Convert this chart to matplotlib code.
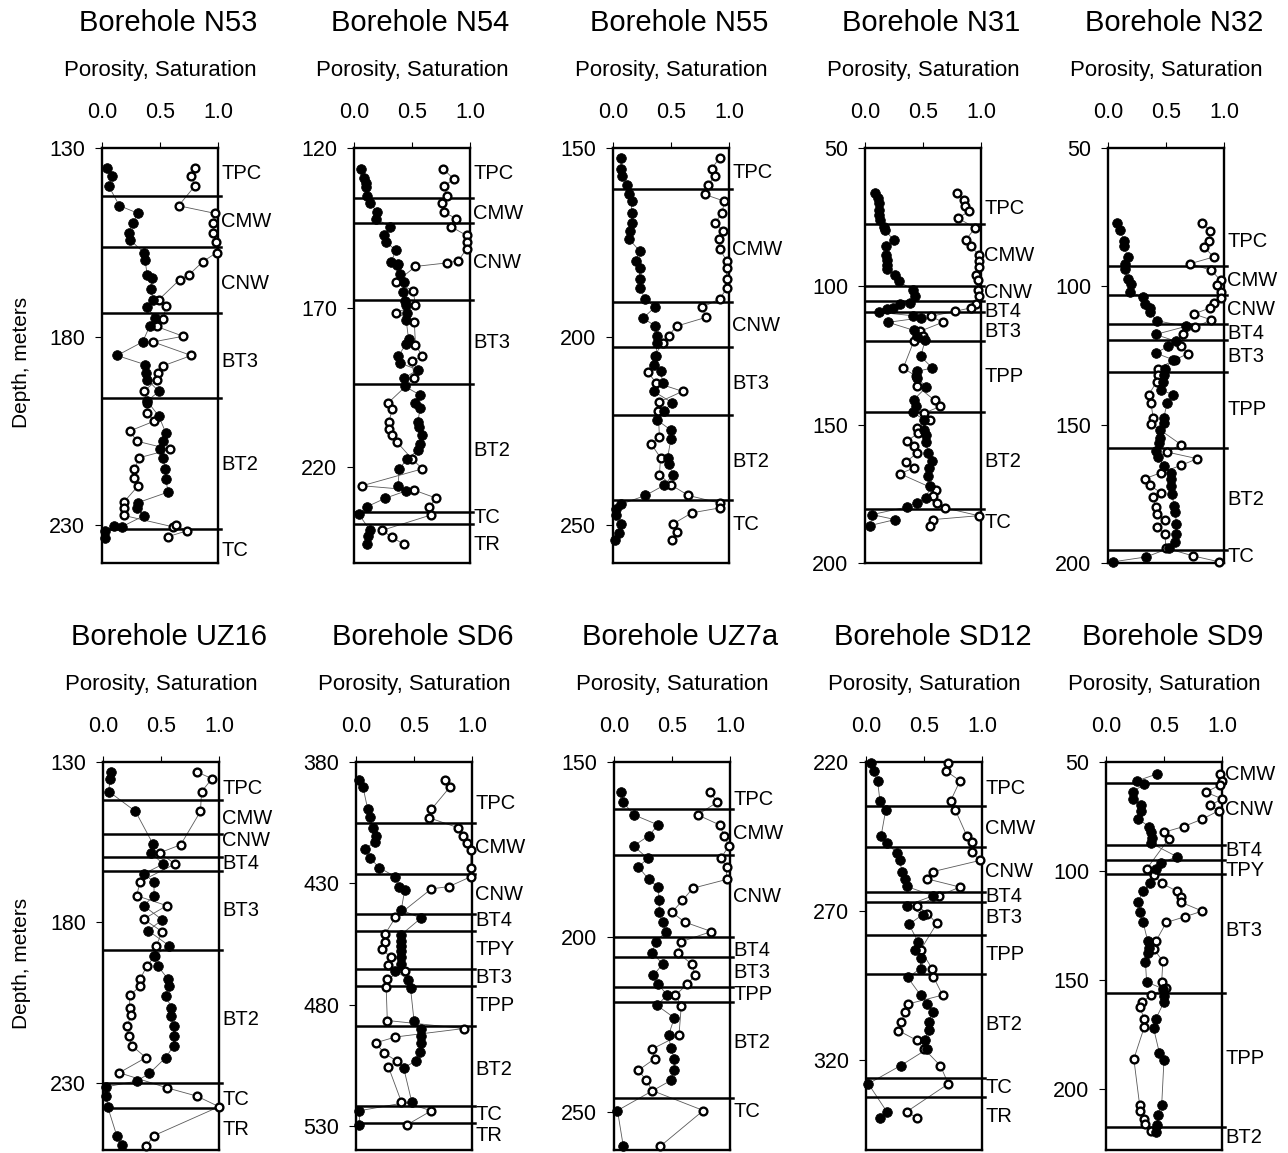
"""Porosity and saturation profiles for ten boreholes."""

import matplotlib
matplotlib.use("Agg")
import matplotlib.pyplot as plt
import matplotlib.transforms as mtransforms
import numpy as np

plt.rcParams["font.family"] = ["Liberation Sans", "DejaVu Sans"]

# ---- data: (depth m, value) pairs ----
N53_POROSITY = [(135.4, 0.04), (137.4, 0.09), (140.2, 0.06), (145.3, 0.15), (147.3, 0.31), (149.9, 0.27),
                (152.6, 0.23), (154.3, 0.24), (157.7, 0.36), (159.6, 0.37), (163.6, 0.39), (164.5, 0.43),
                (167.3, 0.42), (170.2, 0.44), (172.2, 0.39), (175.1, 0.46), (177.3, 0.41), (181.4, 0.35),
                (185.0, 0.13), (187.4, 0.37), (189.6, 0.38), (191.4, 0.39), (194.5, 0.49), (197.1, 0.39),
                (201.1, 0.49), (205.5, 0.55), (207.7, 0.53), (209.9, 0.50), (212.1, 0.53), (215.2, 0.54),
                (217.8, 0.55), (221.2, 0.57), (224.0, 0.31), (225.3, 0.30), (227.5, 0.36), (230.4, 0.17),
                (230.2, 0.10), (231.5, 0.03), (233.3, 0.03)]
N53_SATURATION = [(135.4, 0.80), (137.4, 0.77), (140.1, 0.80), (145.3, 0.66), (147.3, 0.97), (149.9, 0.96),
                  (152.4, 0.96), (154.9, 0.98), (157.7, 0.99), (160.1, 0.87), (163.6, 0.75), (164.9, 0.67),
                  (170.2, 0.49), (172.0, 0.55), (175.2, 0.53), (177.3, 0.47), (179.9, 0.70), (181.4, 0.44),
                  (185.0, 0.77), (187.7, 0.53), (189.6, 0.48), (191.6, 0.47), (194.5, 0.36), (197.5, 0.39),
                  (200.2, 0.39), (202.4, 0.45), (205.0, 0.24), (207.7, 0.30), (209.9, 0.59), (212.1, 0.32),
                  (215.2, 0.28), (217.4, 0.28), (219.6, 0.31), (223.8, 0.19), (225.3, 0.19), (227.4, 0.19),
                  (230.4, 0.61), (230.0, 0.64), (231.5, 0.73), (233.0, 0.57)]
N53_TOPS = [142.7, 156.3, 173.7, 196.2, 231.1]
N53_UNITS = ["TPC", "CMW", "CNW", "BT3", "BT2", "TC"]
N53_UNIT_DEPTHS = [136.7, 149.5, 165.8, 186.5, 213.9, 236.8]

N54_POROSITY = [(126.6, 0.06), (129.5, 0.09), (131.1, 0.10), (132.1, 0.10), (134.9, 0.11), (137.1, 0.14),
                (140.2, 0.20), (142.1, 0.19), (144.7, 0.31), (147.4, 0.26), (149.5, 0.28), (152.1, 0.36),
                (155.8, 0.32), (156.2, 0.38), (156.8, 0.37), (159.5, 0.40), (162.1, 0.43), (165.1, 0.42),
                (167.9, 0.44), (169.3, 0.45), (171.8, 0.46), (173.9, 0.45), (179.8, 0.47), (181.3, 0.45),
                (185.3, 0.38), (187.4, 0.40), (189.5, 0.55), (192.1, 0.43), (194.7, 0.44), (197.4, 0.57),
                (200.0, 0.53), (201.6, 0.57), (205.8, 0.55), (207.4, 0.56), (210.0, 0.59), (212.6, 0.57),
                (214.7, 0.55), (217.4, 0.46), (220.5, 0.39), (225.8, 0.38), (227.4, 0.45), (229.7, 0.27),
                (232.4, 0.11), (234.7, 0.04), (239.8, 0.14), (241.6, 0.12), (244.2, 0.11)]
N54_SATURATION = [(126.6, 0.77), (129.7, 0.86), (131.9, 0.78), (134.9, 0.80), (137.1, 0.76), (140.2, 0.78),
                  (142.1, 0.88), (144.7, 0.84), (147.4, 0.97), (149.5, 0.97), (151.6, 0.97), (155.3, 0.90),
                  (156.0, 0.80), (157.1, 0.53), (162.1, 0.36), (164.7, 0.51), (169.3, 0.53), (171.6, 0.36),
                  (174.4, 0.52), (181.8, 0.53), (185.1, 0.59), (186.8, 0.50), (192.1, 0.52), (200.0, 0.29),
                  (201.9, 0.33), (205.8, 0.30), (207.9, 0.30), (210.0, 0.33), (212.1, 0.37), (217.4, 0.50),
                  (220.5, 0.59), (225.8, 0.07), (227.2, 0.52), (229.7, 0.71), (232.4, 0.65), (235.0, 0.66),
                  (239.8, 0.24), (241.9, 0.33), (244.2, 0.43)]
N54_TOPS = [135.8, 143.4, 167.6, 193.9, 233.9, 237.9]
N54_UNITS = ["TPC", "CMW", "CNW", "BT3", "BT2", "TC", "TR"]
N54_UNIT_DEPTHS = [127.9, 140.5, 155.8, 181.0, 214.7, 235.8, 244.2]

N55_POROSITY = [(152.6, 0.07), (155.5, 0.07), (157.3, 0.08), (159.7, 0.12), (162.3, 0.14), (164.1, 0.16),
                (167.3, 0.16), (169.8, 0.16), (172.0, 0.15), (174.2, 0.14), (177.3, 0.23), (179.9, 0.20),
                (181.9, 0.23), (184.6, 0.23), (187.2, 0.23), (190.0, 0.28), (192.2, 0.36), (195.1, 0.26),
                (197.1, 0.36), (199.7, 0.38), (201.6, 0.38), (205.0, 0.37), (207.4, 0.35), (209.2, 0.41),
                (212.4, 0.43), (214.5, 0.35), (217.5, 0.51), (219.7, 0.44), (222.1, 0.38), (224.8, 0.50),
                (227.0, 0.50), (232.2, 0.47), (233.8, 0.48), (236.6, 0.52), (239.4, 0.44), (242.1, 0.28),
                (244.4, 0.07), (245.6, 0.03), (247.2, 0.03), (249.6, 0.07), (252.0, 0.05), (254.0, 0.02)]
N55_SATURATION = [(152.6, 0.92), (155.5, 0.85), (157.3, 0.88), (159.7, 0.82), (162.3, 0.79), (164.1, 0.96),
                  (167.3, 0.94), (169.8, 0.88), (172.0, 0.95), (174.2, 0.91), (176.8, 0.92), (179.9, 0.98),
                  (181.9, 0.98), (184.6, 0.98), (187.2, 0.98), (190.0, 0.92), (192.2, 0.77), (194.9, 0.80),
                  (197.2, 0.55), (199.7, 0.48), (201.6, 0.43), (205.0, 0.36), (209.4, 0.30), (212.2, 0.37),
                  (214.5, 0.60), (217.3, 0.40), (219.7, 0.39), (226.5, 0.40), (228.5, 0.33), (232.1, 0.41),
                  (236.6, 0.40), (239.3, 0.50), (242.1, 0.65), (244.1, 0.92), (245.4, 0.92), (246.7, 0.68),
                  (249.6, 0.52), (251.8, 0.55), (254.0, 0.51)]
N55_TOPS = [160.8, 190.9, 202.8, 220.8, 243.2]
N55_UNITS = ["TPC", "CMW", "CNW", "BT3", "BT2", "TC"]
N55_UNIT_DEPTHS = [156.6, 176.8, 197.0, 212.4, 233.1, 249.8]

N31_POROSITY = [(66.3, 0.09), (68.1, 0.11), (69.9, 0.12), (72.3, 0.12), (74.1, 0.12), (75.9, 0.13),
                (78.6, 0.16), (79.5, 0.17), (83.4, 0.25), (85.5, 0.18), (88.6, 0.18), (90.4, 0.19),
                (92.2, 0.19), (93.7, 0.19), (95.8, 0.26), (98.2, 0.29), (101.2, 0.41), (103.6, 0.43),
                (106.0, 0.39), (106.3, 0.30), (107.8, 0.24), (108.2, 0.19), (109.4, 0.12), (110.6, 0.41),
                (111.4, 0.48), (113.0, 0.20), (115.9, 0.42), (118.1, 0.45), (119.3, 0.52), (125.3, 0.48),
                (129.5, 0.58), (130.7, 0.45), (133.1, 0.45), (136.4, 0.53), (141.0, 0.42), (143.4, 0.44),
                (145.5, 0.41), (148.2, 0.51), (151.8, 0.51), (153.6, 0.53), (156.4, 0.53), (160.2, 0.54),
                (163.3, 0.58), (165.7, 0.55), (168.7, 0.54), (172.3, 0.56), (176.5, 0.53), (178.3, 0.45),
                (179.8, 0.36), (182.5, 0.06), (184.3, 0.26), (186.5, 0.04)]
N31_SATURATION = [(66.3, 0.79), (68.7, 0.85), (71.1, 0.86), (72.9, 0.90), (75.3, 0.80), (78.9, 0.95),
                  (83.1, 0.87), (85.3, 0.91), (88.6, 0.98), (91.0, 0.98), (93.0, 0.98), (95.8, 0.96),
                  (97.8, 0.97), (101.2, 0.97), (103.6, 0.98), (106.3, 0.96), (107.8, 0.91), (109.0, 0.78),
                  (110.8, 0.57), (113.0, 0.67), (116.3, 0.47), (118.1, 0.50), (119.9, 0.42), (129.5, 0.33),
                  (132.5, 0.44), (136.1, 0.45), (141.2, 0.60), (143.4, 0.65), (145.8, 0.51), (148.4, 0.56),
                  (151.2, 0.45), (153.0, 0.46), (156.0, 0.36), (157.8, 0.42), (160.2, 0.45), (163.6, 0.35),
                  (165.7, 0.42), (167.7, 0.30), (173.5, 0.61), (175.9, 0.59), (178.3, 0.62), (180.1, 0.69),
                  (182.9, 0.98), (184.3, 0.59), (186.7, 0.56)]
N31_TOPS = [77.3, 99.8, 105.2, 109.4, 119.9, 145.5, 180.5]
N31_UNITS = ["TPC", "CMW", "CNW", "BT4", "BT3", "TPP", "BT2", "TC"]
N31_UNIT_DEPTHS = [71.7, 88.9, 102.4, 109.2, 116.3, 132.5, 163.3, 185.5]

N32_POROSITY = [(77.1, 0.08), (79.5, 0.10), (83.5, 0.14), (85.5, 0.14), (89.4, 0.17), (91.8, 0.15),
                (93.8, 0.15), (97.4, 0.17), (99.2, 0.20), (101.9, 0.19), (104.0, 0.30), (106.4, 0.32),
                (107.8, 0.36), (109.4, 0.36), (112.4, 0.42), (114.5, 0.67), (117.4, 0.41), (119.9, 0.59),
                (121.7, 0.52), (124.1, 0.41), (126.5, 0.56), (129.7, 0.49), (132.1, 0.48), (134.5, 0.47),
                (137.5, 0.46), (139.2, 0.56), (142.2, 0.51), (147.6, 0.48), (149.4, 0.48), (151.8, 0.45),
                (154.8, 0.45), (156.6, 0.44), (159.6, 0.41), (161.6, 0.43), (164.9, 0.48), (167.3, 0.54),
                (169.7, 0.54), (172.1, 0.54), (175.1, 0.55), (179.3, 0.57), (181.7, 0.58), (185.8, 0.59),
                (189.4, 0.59), (192.4, 0.58), (194.6, 0.53), (197.8, 0.33), (199.6, 0.04)]
N32_SATURATION = [(77.1, 0.81), (79.9, 0.88), (83.5, 0.87), (85.8, 0.83), (89.4, 0.91), (91.8, 0.71),
                  (94.2, 0.89), (97.8, 0.97), (99.5, 0.94), (101.9, 0.97), (104.2, 0.97), (106.2, 0.91),
                  (107.8, 0.88), (110.0, 0.74), (112.1, 0.89), (114.8, 0.75), (117.4, 0.65), (121.7, 0.63),
                  (124.3, 0.69), (126.5, 0.58), (129.7, 0.43), (132.1, 0.43), (134.5, 0.42), (139.2, 0.35),
                  (142.2, 0.37), (147.6, 0.39), (149.6, 0.37), (157.2, 0.63), (159.9, 0.51), (162.3, 0.77),
                  (164.7, 0.63), (167.3, 0.46), (169.5, 0.32), (171.9, 0.36), (174.7, 0.46), (176.3, 0.39),
                  (179.9, 0.41), (182.3, 0.42), (184.3, 0.49), (187.0, 0.42), (189.4, 0.49), (194.6, 0.50),
                  (197.4, 0.73), (199.6, 0.96)]
N32_TOPS = [92.7, 103.2, 113.6, 119.5, 131.1, 158.6, 195.4]
N32_UNITS = ["TPC", "CMW", "CNW", "BT4", "BT3", "TPP", "BT2", "TC"]
N32_UNIT_DEPTHS = [83.9, 98.0, 108.5, 116.9, 125.5, 144.6, 176.9, 197.8]

UZ16_POROSITY = [(133.1, 0.07), (135.2, 0.06), (139.2, 0.05), (145.4, 0.28), (155.5, 0.43), (158.3, 0.41),
                 (161.8, 0.52), (164.9, 0.35), (167.3, 0.44), (171.7, 0.44), (174.8, 0.35), (179.2, 0.51),
                 (182.6, 0.39), (187.3, 0.57), (190.4, 0.44), (193.5, 0.47), (197.7, 0.56), (199.8, 0.57),
                 (202.9, 0.54), (206.6, 0.59), (209.2, 0.59), (212.3, 0.61), (215.4, 0.61), (218.5, 0.61),
                 (222.2, 0.54), (227.1, 0.40), (229.5, 0.29), (231.3, 0.03), (234.2, 0.03), (237.5, 0.04),
                 (246.7, 0.12), (249.5, 0.16)]
UZ16_SATURATION = [(133.1, 0.81), (135.2, 0.94), (139.2, 0.85), (145.4, 0.84), (155.8, 0.67), (158.3, 0.49),
                   (161.8, 0.62), (167.3, 0.32), (171.7, 0.29), (174.8, 0.55), (179.0, 0.35), (182.9, 0.51),
                   (187.3, 0.46), (190.4, 0.45), (193.5, 0.38), (197.7, 0.32), (200.0, 0.32), (202.7, 0.23),
                   (206.6, 0.23), (209.0, 0.24), (212.3, 0.21), (215.4, 0.22), (218.5, 0.25), (222.2, 0.37),
                   (226.9, 0.14), (231.6, 0.55), (234.2, 0.81), (237.5, 1.00), (246.5, 0.44), (249.8, 0.37)]
UZ16_TOPS = [141.8, 152.4, 159.5, 163.9, 188.5, 230.0, 237.8]
UZ16_UNITS = ["TPC", "CMW", "CNW", "BT4", "BT3", "BT2", "TC", "TR"]
UZ16_UNIT_DEPTHS = [138.3, 147.7, 154.5, 161.8, 176.4, 210.2, 235.2, 244.6]

SD6_POROSITY = [(387.5, 0.03), (390.3, 0.06), (399.2, 0.10), (402.6, 0.12), (407.1, 0.15), (410.4, 0.17),
                (412.9, 0.16), (415.9, 0.08), (419.5, 0.12), (423.6, 0.20), (427.3, 0.34), (431.4, 0.37),
                (432.7, 0.42), (441.0, 0.39), (444.4, 0.56), (451.2, 0.39), (453.7, 0.39), (456.0, 0.39),
                (458.1, 0.39), (460.5, 0.39), (463.3, 0.39), (466.0, 0.34), (469.7, 0.45), (473.2, 0.47),
                (486.6, 0.50), (490.3, 0.56), (493.0, 0.56), (495.8, 0.56), (499.5, 0.55), (503.3, 0.52),
                (506.0, 0.41), (520.0, 0.48), (523.8, 0.03), (529.6, 0.03)]
SD6_SATURATION = [(387.5, 0.77), (390.3, 0.81), (399.5, 0.65), (403.0, 0.63), (407.1, 0.88), (410.4, 0.92),
                  (413.2, 0.96), (416.3, 0.99), (423.8, 0.99), (427.3, 0.99), (431.4, 0.80), (432.3, 0.65),
                  (444.1, 0.34), (451.0, 0.25), (454.2, 0.25), (457.0, 0.22), (460.5, 0.30), (463.8, 0.28),
                  (466.0, 0.42), (469.3, 0.27), (472.9, 0.26), (486.6, 0.27), (489.9, 0.93), (493.4, 0.34),
                  (495.8, 0.17), (499.9, 0.24), (503.3, 0.35), (505.8, 0.28), (520.0, 0.39), (523.8, 0.65),
                  (529.6, 0.44)]
SD6_TOPS = [405.3, 426.3, 442.6, 449.6, 465.3, 472.2, 488.9, 521.8, 529.0]
SD6_UNITS = ["TPC", "CMW", "CNW", "BT4", "TPY", "BT3", "TPP", "BT2", "TC", "TR"]
SD6_UNIT_DEPTHS = [397.1, 415.3, 434.8, 445.3, 457.4, 469.0, 480.3, 506.7, 525.2, 534.1]

UZ7A_POROSITY = [(158.6, 0.06), (161.5, 0.08), (165.1, 0.17), (168.0, 0.38), (171.1, 0.30), (174.0, 0.17),
                 (177.6, 0.29), (180.0, 0.21), (183.6, 0.30), (185.8, 0.38), (189.6, 0.39), (193.0, 0.39),
                 (195.8, 0.42), (198.5, 0.45), (201.4, 0.36), (204.6, 0.33), (207.8, 0.42), (211.0, 0.34),
                 (213.6, 0.38), (216.7, 0.46), (219.6, 0.37), (223.2, 0.52), (228.2, 0.47), (231.8, 0.49),
                 (234.9, 0.52), (238.2, 0.52), (241.1, 0.49), (249.7, 0.03), (259.9, 0.08)]
UZ7A_SATURATION = [(158.6, 0.83), (161.5, 0.89), (165.1, 0.72), (168.0, 0.91), (171.1, 0.95), (174.0, 0.99),
                   (177.6, 0.92), (180.0, 0.97), (183.6, 0.97), (186.1, 0.68), (189.6, 0.59), (193.0, 0.50),
                   (195.8, 0.61), (198.5, 0.84), (201.4, 0.58), (204.6, 0.55), (207.8, 0.67), (211.0, 0.70),
                   (213.6, 0.63), (216.7, 0.53), (219.8, 0.58), (228.2, 0.56), (232.1, 0.33), (234.9, 0.35),
                   (238.2, 0.21), (241.1, 0.28), (244.0, 0.33), (249.7, 0.77), (259.9, 0.40)]
UZ7A_TOPS = [163.5, 176.5, 200.1, 205.7, 214.3, 218.6, 246.2]
UZ7A_UNITS = ["TPC", "CMW", "CNW", "BT4", "BT3", "TPP", "BT2", "TC"]
UZ7A_UNIT_DEPTHS = [160.8, 170.4, 188.6, 204.0, 210.2, 216.4, 230.3, 250.0]

SD12_POROSITY = [(220.3, 0.04), (223.0, 0.07), (226.3, 0.10), (233.0, 0.12), (236.1, 0.17), (244.8, 0.13),
                 (247.2, 0.18), (250.6, 0.27), (253.0, 0.29), (256.7, 0.31), (259.2, 0.34), (261.7, 0.35),
                 (264.8, 0.58), (268.1, 0.35), (271.1, 0.49), (274.4, 0.37), (280.3, 0.45), (283.0, 0.42),
                 (285.6, 0.47), (289.2, 0.47), (292.2, 0.36), (298.1, 0.47), (301.1, 0.53), (303.7, 0.58),
                 (307.0, 0.54), (309.7, 0.54), (313.3, 0.51), (316.1, 0.53), (321.7, 0.30), (327.8, 0.02),
                 (337.2, 0.18), (339.4, 0.12)]
SD12_SATURATION = [(220.3, 0.71), (223.0, 0.69), (226.3, 0.81), (233.0, 0.73), (236.1, 0.77), (244.8, 0.87),
                   (246.7, 0.91), (250.0, 0.91), (253.0, 0.98), (256.7, 0.58), (259.2, 0.53), (261.9, 0.81),
                   (264.8, 0.63), (268.1, 0.44), (270.8, 0.53), (274.1, 0.61), (283.0, 0.47), (289.2, 0.57),
                   (291.9, 0.58), (298.1, 0.66), (301.1, 0.36), (303.9, 0.34), (307.2, 0.30), (310.0, 0.28),
                   (313.3, 0.44), (316.1, 0.50), (321.7, 0.64), (327.8, 0.71), (337.2, 0.35), (339.2, 0.44)]
SD12_TOPS = [234.7, 248.6, 263.6, 266.9, 277.8, 290.9, 325.9, 332.2]
SD12_UNITS = ["TPC", "CMW", "CNW", "BT4", "BT3", "TPP", "BT2", "TC", "TR"]
SD12_UNIT_DEPTHS = [228.9, 242.2, 256.7, 265.0, 272.0, 284.4, 307.8, 328.9, 338.9]

SD9_POROSITY = [(55.5, 0.44), (58.6, 0.27), (60.1, 0.33), (63.8, 0.23), (66.9, 0.23), (69.9, 0.30),
                (72.7, 0.30), (76.2, 0.28), (79.6, 0.37), (81.9, 0.39), (85.0, 0.40), (87.3, 0.39),
                (93.4, 0.61), (96.5, 0.47), (99.1, 0.43), (105.7, 0.38), (109.2, 0.32), (114.1, 0.28),
                (118.7, 0.29), (123.6, 0.32), (132.2, 0.36), (135.3, 0.37), (137.4, 0.36), (141.7, 0.34),
                (150.9, 0.35), (154.0, 0.49), (157.4, 0.50), (160.1, 0.50), (167.8, 0.43), (172.1, 0.41),
                (183.4, 0.46), (186.5, 0.50), (207.4, 0.48), (212.0, 0.45), (216.6, 0.44), (219.6, 0.43)]
SD9_SATURATION = [(55.5, 0.98), (58.6, 1.00), (60.7, 0.98), (63.8, 0.86), (66.9, 1.00), (69.9, 0.90),
                  (72.4, 0.97), (76.2, 0.83), (79.6, 0.67), (82.2, 0.50), (85.3, 0.54), (99.1, 0.35),
                  (101.8, 0.41), (105.7, 0.48), (109.2, 0.61), (111.8, 0.65), (114.4, 0.65), (118.4, 0.83),
                  (121.0, 0.68), (123.6, 0.52), (132.2, 0.43), (135.6, 0.41), (141.4, 0.49), (150.9, 0.48),
                  (153.7, 0.52), (157.1, 0.39), (160.1, 0.31), (162.4, 0.29), (167.8, 0.33), (171.6, 0.33),
                  (186.2, 0.24), (207.4, 0.29), (210.0, 0.29), (213.8, 0.33), (216.1, 0.34), (219.2, 0.39)]
SD9_TOPS = [59.7, 88.3, 94.9, 101.5, 155.8, 217.6]
SD9_UNITS = ["CMW", "CNW", "BT4", "TPY", "BT3", "TPP", "BT2"]
SD9_UNIT_DEPTHS = [55.8, 71.9, 90.6, 99.8, 127.1, 186.2, 222.2]

# name, depth range (top, bottom), porosity, saturation, tops, units, unit label depths
BOREHOLES = [
    ("N53", (130, 240), N53_POROSITY, N53_SATURATION, N53_TOPS, N53_UNITS, N53_UNIT_DEPTHS),
    ("N54", (120, 250), N54_POROSITY, N54_SATURATION, N54_TOPS, N54_UNITS, N54_UNIT_DEPTHS),
    ("N55", (150, 260), N55_POROSITY, N55_SATURATION, N55_TOPS, N55_UNITS, N55_UNIT_DEPTHS),
    ("N31", (50, 200), N31_POROSITY, N31_SATURATION, N31_TOPS, N31_UNITS, N31_UNIT_DEPTHS),
    ("N32", (50, 200), N32_POROSITY, N32_SATURATION, N32_TOPS, N32_UNITS, N32_UNIT_DEPTHS),
    ("UZ16", (130, 251), UZ16_POROSITY, UZ16_SATURATION, UZ16_TOPS, UZ16_UNITS, UZ16_UNIT_DEPTHS),
    ("SD6", (380, 540), SD6_POROSITY, SD6_SATURATION, SD6_TOPS, SD6_UNITS, SD6_UNIT_DEPTHS),
    ("UZ7a", (150, 261), UZ7A_POROSITY, UZ7A_SATURATION, UZ7A_TOPS, UZ7A_UNITS, UZ7A_UNIT_DEPTHS),
    ("SD12", (220, 350), SD12_POROSITY, SD12_SATURATION, SD12_TOPS, SD12_UNITS, SD12_UNIT_DEPTHS),
    ("SD9", (50, 228), SD9_POROSITY, SD9_SATURATION, SD9_TOPS, SD9_UNITS, SD9_UNIT_DEPTHS),
]

W, H = 1288, 1153
# panel boxes in pixels: left edges per row, top / bottom per row
ROW_LEFTS = [[102, 354, 613, 865, 1108], [103, 356, 614, 866, 1106]]
ROW_TOPBOT = [(148, 563), (762, 1150)]
PANEL_W = 116


def draw_panel(ax, name, ylim, por, sat, tops, units, unit_depths):
    sd, sv = zip(*sat)
    pd_, pv = zip(*por)
    ax.plot(sv, sd, "-", color="0.35", lw=0.6, zorder=2)
    ax.plot(pv, pd_, "-", color="0.35", lw=0.6, zorder=2)
    ax.plot(sv, sd, "o", ms=5.6, mfc="white", mec="black", mew=1.7, zorder=4, clip_on=False)
    ax.plot(pv, pd_, "o", ms=7.0, mfc="black", mec="black", mew=0.5, zorder=5, clip_on=False)

    for d in tops:
        ax.axhline(d, xmin=0, xmax=1.03, color="black", lw=1.8, clip_on=False, zorder=3)
    trans = mtransforms.blended_transform_factory(ax.transAxes, ax.transData)
    for u, d in zip(units, unit_depths):
        ax.text(1.03, d, u, transform=trans, ha="left", va="center", fontsize=14.5)

    ax.set_xlim(0, 1)
    ax.set_ylim(ylim[1], ylim[0])
    ax.set_yticks(np.arange(ylim[0], ylim[1] + 0.1, 50))
    ax.set_xticks([0.0, 0.5, 1.0])
    ax.set_xticklabels(["0.0", "0.5", "1.0"])
    ax.xaxis.tick_top()
    ax.tick_params(axis="x", labelsize=15.5, length=4, pad=14, width=0.8)
    ax.tick_params(axis="y", labelsize=15.5, length=5, pad=7, width=0.8)
    for s in ax.spines.values():
        s.set_linewidth(1.7)

    ax.annotate(f"Borehole {name}", xy=(0.5, 1), xycoords="axes fraction", xytext=(6, 90),
                textcoords="offset points", ha="center", va="center", fontsize=21)
    ax.annotate("Porosity, Saturation", xy=(0.5, 1), xycoords="axes fraction", xytext=(0, 56),
                textcoords="offset points", ha="center", va="center", fontsize=16)


fig = plt.figure(figsize=(W / 100, H / 100), dpi=100)
for i, (name, ylim, por, sat, tops, units, unit_depths) in enumerate(BOREHOLES):
    row, col = divmod(i, 5)
    left = ROW_LEFTS[row][col]
    top, bot = ROW_TOPBOT[row]
    ax = fig.add_axes([left / W, 1 - bot / H, PANEL_W / W, (bot - top) / H])
    draw_panel(ax, name, ylim, por, sat, tops, units, unit_depths)

for top, bot in ROW_TOPBOT:
    fig.text(22 / W, 1 - (top + bot + 14) / 2 / H, "Depth, meters", rotation=90,
             ha="center", va="center", fontsize=15)

fig.savefig("out.png", dpi=100)
plt.close(fig)
